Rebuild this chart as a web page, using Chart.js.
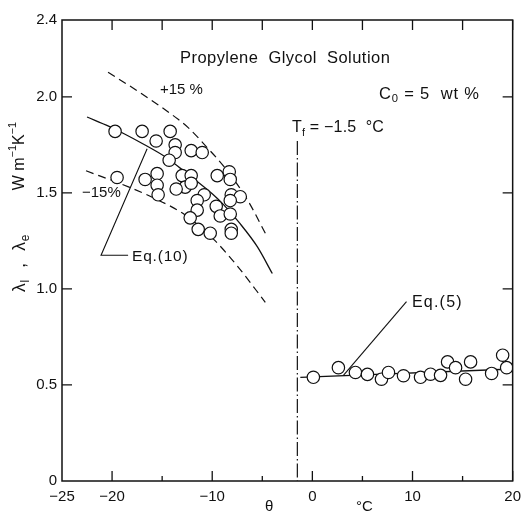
<!DOCTYPE html>
<html>
<head>
<meta charset="utf-8">
<script src="https://cdn.jsdelivr.net/npm/chart.js@4"></script>
<style>
  html, body { margin: 0; padding: 0; background: #fff; }
  canvas { display: block; }
</style>
</head>
<body>
<canvas id="chart" width="528" height="515"></canvas>
<script>
// frozen region (theta below Tf), measured lambda_e
const frozenTheta = [-19.7, -17.0, -14.2, -15.6, -13.7, -13.7, -14.3, -12.1, -11.0, -19.5,
  -16.7, -15.5, -15.5, -15.4, -13.0, -12.1, -12.7, -13.6, -12.1, -9.5,
  -8.3, -8.2, -10.8, -11.5, -8.1, -7.2, -8.2, -11.5, -9.6, -9.2,
  -8.2, -12.2, -11.4, -10.2, -8.1, -8.1]
const frozenLambda = [1.82, 1.82, 1.82, 1.77, 1.75, 1.71, 1.67, 1.72, 1.71, 1.58,
  1.57, 1.60, 1.54, 1.49, 1.59, 1.59, 1.53, 1.52, 1.55, 1.59,
  1.61, 1.57, 1.49, 1.46, 1.49, 1.48, 1.46, 1.41, 1.43, 1.38,
  1.39, 1.37, 1.31, 1.29, 1.31, 1.29]

// liquid region, measured lambda_l
const liquidTheta = [0.1, 2.6, 4.3, 5.5, 6.9, 7.6, 9.1, 10.8, 11.8, 12.8, 13.5, 14.3, 15.3, 15.8, 17.9, 19.0, 19.4]
const liquidLambda = [0.54, 0.59, 0.565, 0.555, 0.53, 0.565, 0.548, 0.54, 0.556, 0.55, 0.62, 0.59, 0.53, 0.62, 0.56, 0.655, 0.59]

// Eq.(10) curve and the +/-15 % band
const eq10Theta = [-22.5, -20.3, -18.8, -16.8, -14.7, -12.5, -10.0, -8.8, -7.3, -5.5, -4.0]
const eq10Lambda = [1.895, 1.846, 1.808, 1.752, 1.688, 1.60, 1.495, 1.435, 1.345, 1.22, 1.08]
const plus15Theta = [-20.4, -17.0, -13.4, -12.4, -10.4, -8.8, -6.5, -4.5]
const plus15Lambda = [2.128, 2.015, 1.883, 1.84, 1.73, 1.635, 1.465, 1.27]
const minus15Theta = [-22.6, -18.3, -15.5, -12.7, -9.8, -7.5, -4.7]
const minus15Lambda = [1.615, 1.53, 1.465, 1.385, 1.255, 1.12, 0.93]

// Eq.(5) line
const eq5Theta = [-1.2, 20]
const eq5Lambda = [0.54, 0.583]

// freezing point
const freezeTheta = -1.5
const freezeLambdaTop = 1.77

// leader lines to the equation labels
const eq10LeaderTheta = [-16.5, -21.1, -18.4]
const eq10LeaderLambda = [1.73, 1.175, 1.175]
const eq5LeaderTheta = [3.1, 9.4]
const eq5LeaderLambda = [0.55, 0.934]

const xTicks = [-25, -20, -15, -10, -5, 0, 5, 10, 15, 20]
const xLabelled = [-25, -20, -10, 0, 10, 20]
const yTicks = [0, 0.5, 1.0, 1.5, 2.0, 2.4]

const FONT = "'Liberation Sans', Arial, sans-serif"

const pts = (xs, ys) => xs.map((x, i) => ({ x, y: ys[i] }))

const lineDs = (data, dash, width, smooth) => ({
  type: "line",
  data,
  borderColor: "#111",
  borderWidth: width || 1.3,
  borderDash: dash || [],
  pointRadius: 0,
  fill: false,
  tension: 0,
  cubicInterpolationMode: smooth ? "monotone" : "default",
  order: 2
})

const circleDs = data => ({
  type: "scatter",
  data,
  pointRadius: 6.2,
  pointBorderWidth: 1.2,
  pointBorderColor: "#111",
  pointBackgroundColor: "#fff",
  order: 0
})

// draw text runs with sub/superscripts; returns width
function runs(ctx, parts, x, y, size, measureOnly, spacing) {
  let cx = x
  ctx.letterSpacing = (spacing || 0) + "px"
  parts.forEach(p => {
    const s = p.sub || p.sup ? size * 0.68 : size
    ctx.font = s + "px " + FONT
    const dy = p.sub ? size * 0.3 : p.sup ? -size * 0.42 : 0
    if (!measureOnly) ctx.fillText(p.t, cx, y + dy)
    cx += ctx.measureText(p.t).width
  })
  ctx.letterSpacing = "0px"
  return cx - x
}

const decorations = {
  id: "decorations",
  afterDatasetsDraw(chart) {
    const { ctx, chartArea: a, scales: { x, y } } = chart
    ctx.save()
    ctx.strokeStyle = "#111"
    ctx.lineWidth = 1.5
    ctx.strokeRect(a.left, a.top, a.right - a.left, a.bottom - a.top)

    // inward tick marks
    ctx.lineWidth = 1.3
    ctx.beginPath()
    xTicks.forEach(v => {
      if (v === -25) return
      const px = x.getPixelForValue(v)
      const long = v % 10 === 0
      ctx.moveTo(px, a.bottom); ctx.lineTo(px, a.bottom - (long ? 10 : 5))
      ctx.moveTo(px, a.top); ctx.lineTo(px, a.top + 10)
    })
    yTicks.forEach(v => {
      if (v === 0 || v === 2.4) return
      const py = y.getPixelForValue(v)
      ctx.moveTo(a.left, py); ctx.lineTo(a.left + 10, py)
      ctx.moveTo(a.right, py); ctx.lineTo(a.right - 10, py)
    })
    ctx.stroke()

    ctx.fillStyle = "#111"
    ctx.textBaseline = "middle"
    ctx.textAlign = "left"
    runs(ctx, [{ t: "Propylene  Glycol  Solution" }], 180, 58, 16.5, false, 0.45)
    runs(ctx, [{ t: "C" }, { t: "0", sub: true }, { t: " = 5  wt %" }], 379, 94, 16.5, false, 0.8)
    runs(ctx, [{ t: "T" }, { t: "f", sub: true }, { t: " = \u22121.5  \u00b0C" }], 292, 128, 16, false, 0.2)
    runs(ctx, [{ t: "+15 %" }], 160, 90, 15)
    runs(ctx, [{ t: "\u221215%" }], 82, 193, 15)
    runs(ctx, [{ t: "Eq.(10)" }], 132, 257, 15.5, false, 0.8)
    runs(ctx, [{ t: "Eq.(5)" }], 412, 303, 16, false, 1.2)
    runs(ctx, [{ t: "\u03b8" }], 265, 507, 15)
    runs(ctx, [{ t: "\u00b0C" }], 356, 507, 15)

    // rotated y-axis title
    ctx.translate(20, 0)
    ctx.rotate(-Math.PI / 2)
    runs(ctx, [{ t: "\u03bb" }, { t: "l", sub: true }, { t: "  ,  \u03bb" }, { t: "e", sub: true }], -292, 0, 17.5, false, 0.8)
    const unit = [{ t: "W m" }, { t: "\u22121", sup: true }, { t: "K" }, { t: "\u22121", sup: true }]
    const w = runs(ctx, unit, 0, 0, 16, true)
    runs(ctx, unit, -122 - w, 0, 16)
    ctx.restore()
  }
}

new Chart(document.getElementById("chart"), {
  type: "scatter",
  data: {
    datasets: [
      circleDs(pts(frozenTheta, frozenLambda)),
      circleDs(pts(liquidTheta, liquidLambda)),
      lineDs(pts(eq10Theta, eq10Lambda), [], 1.3, true),
      lineDs(pts(plus15Theta, plus15Lambda), [8, 5], 1.2, true),
      lineDs(pts(minus15Theta, minus15Lambda), [8, 5], 1.2, true),
      lineDs(pts(eq5Theta, eq5Lambda)),
      lineDs([{ x: freezeTheta, y: freezeLambdaTop }, { x: freezeTheta, y: 0 }], [14, 3, 1.5, 3], 1.2),
      lineDs(pts(eq10LeaderTheta, eq10LeaderLambda), [], 1.1),
      lineDs(pts(eq5LeaderTheta, eq5LeaderLambda), [], 1.1)
    ]
  },
  options: {
    responsive: false,
    animation: false,
    devicePixelRatio: 1,
    layout: { padding: { top: 20, right: 9, left: 0, bottom: 0 } },
    plugins: { legend: { display: false }, tooltip: { enabled: false } },
    scales: {
      x: {
        type: "linear",
        min: -25,
        max: 20,
        afterFit: s => { s.height = 34 },
        afterBuildTicks: s => { s.ticks = xTicks.map(v => ({ value: v })) },
        grid: { display: false, drawTicks: false },
        border: { display: false },
        ticks: {
          padding: 7,
          maxRotation: 0,
          autoSkip: false,
          color: "#111",
          font: { family: FONT, size: 15 },
          callback: v => xLabelled.includes(v) ? String(v).replace("-", "\u2212") : ""
        }
      },
      y: {
        min: 0,
        max: 2.4,
        afterFit: s => { s.width = 62 },
        afterBuildTicks: s => { s.ticks = yTicks.map(v => ({ value: v })) },
        grid: { display: false, drawTicks: false },
        border: { display: false },
        ticks: {
          padding: 5,
          color: "#111",
          font: { family: FONT, size: 15 },
          callback: v => v === 0 ? "0" : v.toFixed(1)
        }
      }
    }
  },
  plugins: [decorations]
})
</script>
</body>
</html>
